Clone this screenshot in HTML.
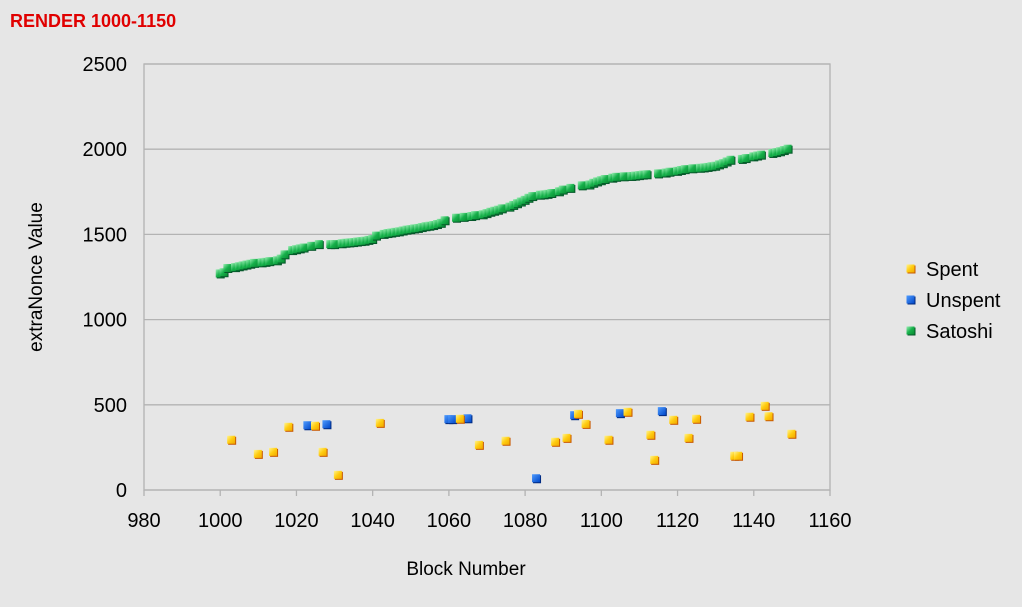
<!DOCTYPE html>
<html><head><meta charset="utf-8">
<style>
body{margin:0;background:#e6e6e6;font-family:"Liberation Sans",sans-serif;}
svg{display:block}
</style></head>
<body>
<svg id="chart" width="1022" height="607" xmlns="http://www.w3.org/2000/svg">
<defs>
<linearGradient id="gy" x1="0" y1="0" x2="1" y2="1"><stop offset="0" stop-color="#fff490"/><stop offset="0.5" stop-color="#ffcc10"/><stop offset="1" stop-color="#f0a800"/></linearGradient>
<linearGradient id="gb" x1="0" y1="0" x2="1" y2="1"><stop offset="0" stop-color="#4f9cff"/><stop offset="1" stop-color="#0047c8"/></linearGradient>
<linearGradient id="gg" x1="0" y1="0" x2="1" y2="1"><stop offset="0" stop-color="#9af0b4"/><stop offset="0.5" stop-color="#16b04a"/><stop offset="1" stop-color="#0a8a32"/></linearGradient>
</defs>
<rect width="1022" height="607" fill="#e6e6e6"/>
<text x="10" y="27" font-size="18" font-weight="bold" fill="#e00000">RENDER 1000-1150</text>
<g id="grid"></g>
<g id="axes"></g>
<g id="marks"></g>
<text x="466" y="575" font-size="19" text-anchor="middle" fill="#000">Block Number</text>
<text transform="translate(42,277) rotate(-90)" font-size="19" text-anchor="middle" fill="#000">extraNonce Value</text>
<g id="legend"></g>
</svg>
<script>
const xTicks=[980,1000,1020,1040,1060,1080,1100,1120,1140,1160];
const yTicks=[0,500,1000,1500,2000,2500];
const spentBlocks=[1003,1010,1014,1018,1025,1027,1031,1042,1063,1068,1075,1088,1091,1094,1096,1102,1107,1113,1114,1119,1123,1125,1135,1136,1139,1143,1144,1150];
const spentValues=[292,209,221,368,374,221,86,391,415,262,286,280,303,444,385,292,456,321,174,409,303,415,198,198,427,491,430,327];
const unspentBlocks=[1023,1028,1060,1061,1065,1083,1093,1105,1116];
const unspentValues=[377,383,413,413,418,66,436,448,460];
const satoshiStart=1000;
const satoshiValues=[1268,1275,1300,null,1305,1310,1315,1320,1325,1330,null,1333,1336,1340,null,1345,1355,1380,null,1405,1410,1415,1420,null,1430,null,1440,null,null,1440,1440,null,1445,1448,1450,1452,1455,1458,1460,1465,1470,1490,null,1500,1505,1508,1512,1515,1520,1525,1528,1532,1535,1540,1545,1548,1552,1558,1565,1580,null,null,1595,null,1600,null,1605,1610,null,1615,1622,1630,1636,1642,1650,null,1660,1670,1680,1690,1700,1712,1722,null,1730,1732,1735,1740,null,1750,1760,null,1770,null,null,1785,null,1790,1800,1808,1815,1822,null,1830,1835,null,1838,null,1840,1842,1845,1848,1850,null,null,1855,null,1860,1865,null,1870,1875,1880,null,1885,null,1888,1890,1893,1897,1900,1908,1915,1925,1935,null,null,1940,1945,null,1955,1960,1965,null,null,1975,1980,1985,1992,2000,null];
const legendLabels=["Spent","Unspent","Satoshi"];

const NS="http://www.w3.org/2000/svg";
const L=144,R=830,T=64,B=490;
const xS=v=>L+(v-980)/(1160-980)*(R-L);
const yS=v=>B-(v-0)/(2500-0)*(B-T);
function mk(tag,attrs,parent){const e=document.createElementNS(NS,tag);for(const k in attrs)e.setAttribute(k,attrs[k]);parent.appendChild(e);return e;}
const grid=document.getElementById('grid'),axes=document.getElementById('axes'),marks=document.getElementById('marks'),legend=document.getElementById('legend');
yTicks.forEach(t=>{
  const l=mk('line',{x1:L,x2:R,y1:yS(t),y2:yS(t),stroke:'#b3b3b3','stroke-width':1.3},grid);
  
  
  const tx=mk('text',{x:127,y:yS(t)+7,'font-size':20,'text-anchor':'end',fill:'#000'},axes);
  tx.textContent=t;
  
  
});
const fr=mk('rect',{x:L,y:T,width:R-L,height:B-T,fill:'none',stroke:'#b3b3b3','stroke-width':1.3},axes);


xTicks.forEach(t=>{
  const l=mk('line',{x1:xS(t),x2:xS(t),y1:B,y2:B+6,stroke:'#b3b3b3','stroke-width':1.3},axes);
  
  
  const tx=mk('text',{x:xS(t),y:B+37,'font-size':20,'text-anchor':'middle',fill:'#000'},axes);
  tx.textContent=t;
  
  
});
const cols={spent:['url(#gy)','#c85800'],unspent:['url(#gb)','#002a80'],satoshi:['url(#gg)','#05582a']};
function marker(cx,cy,c,name,parent){
  const g=mk('g',{},parent);
  
  
  mk('rect',{x:cx-3.5,y:cy-3.5,width:8,height:8,fill:c[1]},g);
  mk('rect',{x:cx-4.5,y:cy-4.5,width:8,height:8,fill:c[0]},g);
}
satoshiValues.forEach((v,i)=>{ if(v!==null) marker(xS(satoshiStart+i),yS(v),cols.satoshi,'satoshi-point',marks); });
unspentBlocks.forEach((b,i)=>marker(xS(b),yS(unspentValues[i]),cols.unspent,'unspent-point',marks));
spentBlocks.forEach((b,i)=>marker(xS(b),yS(spentValues[i]),cols.spent,'spent-point',marks));
const lc=[cols.spent,cols.unspent,cols.satoshi];
legendLabels.forEach((lab,i)=>{
  const y=270+i*31;
  const g=mk('g',{},legend);
  
  
  marker(911,y-1,lc[i],'legend-marker',g);
  const tx=mk('text',{x:926,y:y+6,'font-size':20,fill:'#000'},g);
  tx.textContent=lab;
  
  
});
</script>
</body></html>
